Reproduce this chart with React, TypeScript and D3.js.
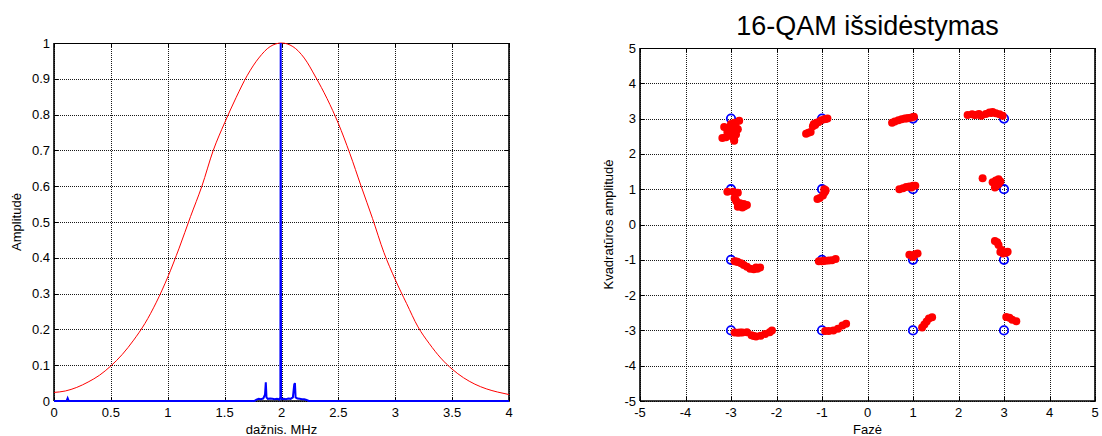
import React from 'react';
import * as d3 from 'd3';

const W = 1102;
const H = 436;
const FONT = '"Liberation Sans", Arial, Helvetica, sans-serif';

// ---------- Left chart: spectrum ----------
const specXTicks = [0, 0.5, 1, 1.5, 2, 2.5, 3, 3.5, 4];
const specXLabels = ['0', '0.5', '1', '1.5', '2', '2.5', '3', '3.5', '4'];
const specYTicks = [0, 0.1, 0.2, 0.3, 0.4, 0.5, 0.6, 0.7, 0.8, 0.9, 1];
const specYLabels = ['0', '0.1', '0.2', '0.3', '0.4', '0.5', '0.6', '0.7', '0.8', '0.9', '1'];

const redFreq = [0, 0.1, 0.2, 0.3, 0.4, 0.5, 0.6, 0.7, 0.8, 0.9, 1.0, 1.1, 1.2, 1.3, 1.4, 1.5, 1.6, 1.7, 1.8, 1.9, 2.0,
  2.1, 2.2, 2.3, 2.4, 2.5, 2.6, 2.7, 2.8, 2.9, 3.0, 3.1, 3.2, 3.3, 3.4, 3.5, 3.6, 3.7, 3.8, 3.9, 4.0];
const redAmp = [0.024, 0.028, 0.038, 0.053, 0.072, 0.098, 0.13, 0.17, 0.217, 0.276, 0.346, 0.427, 0.515, 0.6, 0.7, 0.777, 0.847, 0.91, 0.958, 0.99, 1.0,
  0.99, 0.958, 0.905, 0.845, 0.775, 0.692, 0.6, 0.51, 0.415, 0.339, 0.272, 0.207, 0.16, 0.12, 0.089, 0.065, 0.047, 0.034, 0.025, 0.018];

const blueFreq = [0, 0.11, 0.12, 0.13, 1.76, 1.78, 1.8, 1.82, 1.84, 1.855, 1.862, 1.868, 1.88, 1.9, 1.92, 1.94, 1.96, 1.98,
  1.99, 1.993, 1.996, 2.0, 2.02, 2.04, 2.06, 2.08, 2.1, 2.112, 2.118, 2.124, 2.14, 2.16, 2.18, 2.2, 2.22, 2.24, 4];
const blueAmp = [0, 0, 0.008, 0, 0, 0.004, 0.006, 0.005, 0.007, 0.018, 0.052, 0.01, 0.006, 0.007, 0.006, 0.005, 0.006, 0.004,
  0.01, 1.0, 0.01, 0.005, 0.006, 0.005, 0.007, 0.006, 0.01, 0.046, 0.05, 0.01, 0.007, 0.006, 0.005, 0.005, 0.003, 0, 0];

// ---------- Right chart: 16-QAM constellation ----------
const qamTicks = [-5, -4, -3, -2, -1, 0, 1, 2, 3, 4, 5];
const qamLabels = ['-5', '-4', '-3', '-2', '-1', '0', '1', '2', '3', '4', '5'];

const idealI = [-3, -1, 1, 3, -3, -1, 1, 3, -3, -1, 1, 3, -3, -1, 1, 3];
const idealQ = [3, 3, 3, 3, 1, 1, 1, 1, -1, -1, -1, -1, -3, -3, -3, -3];

const rxI = [
  // (-3,3)
  -2.82, -2.93, -3.15, -2.96, -3.11, -2.93, -2.89, -3.04, -3.19, -2.93, -2.85, -3.0, -3.08, -2.98, -2.9,
  // (-1,3)
  -0.88, -0.95, -1.02, -1.08, -1.15, -1.2, -1.3, -1.35, -1.25, -1.18, -0.92, -1.12,
  // (1,3)
  0.54, 0.6, 0.68, 0.75, 0.82, 0.9, 0.97, 1.02, 0.86,
  // (3,3)
  2.2, 2.3, 2.4, 2.5, 2.6, 2.68, 2.75, 2.82, 2.9, 2.97, 2.45, 2.35, 2.72,
  // (-3,1)
  -3.08, -2.95, -2.85, -2.92, -2.88, -2.8, -2.72, -2.65, -2.75, -2.85, -2.9, -2.7,
  // (-1,1)
  -0.92, -0.95, -0.98, -1.05, -1.1, -0.95, -0.93,
  // (1,1)
  0.7, 0.78, 0.85, 0.92, 1.0, 1.05, 0.97,
  // (3,1)
  2.53, 2.75, 2.82, 2.88, 2.92, 2.85, 2.8, 2.88,
  // (-3,-1)
  -2.92, -2.85, -2.78, -2.72, -2.65, -2.58, -2.5, -2.42, -2.36, -2.45, -2.88,
  // (-1,-1)
  -1.07, -1.0, -0.92, -0.85, -0.78, -0.7, -0.96,
  // (1,-1)
  0.92, 0.98, 1.05, 1.1, 1.0,
  // (3,-1)
  2.8, 2.85, 2.88, 2.92, 2.98, 3.05, 3.08, 2.95,
  // (-3,-3)
  -2.92, -2.85, -2.75, -2.65, -2.55, -2.45, -2.35, -2.25, -2.15, -2.1, -2.8, -2.5,
  // (-1,-3)
  -0.93, -0.85, -0.75, -0.65, -0.55, -0.47,
  // (1,-3)
  1.2, 1.25, 1.3, 1.35, 1.42,
  // (3,-3)
  3.05, 3.12, 3.18, 3.27,
];
const rxQ = [
  2.94, 2.88, 2.76, 2.64, 2.47, 2.4, 2.55, 2.74, 2.45, 2.37, 2.7, 2.85, 2.62, 2.5, 2.8,
  3.0, 2.98, 2.95, 2.9, 2.82, 2.78, 2.6, 2.57, 2.62, 2.85, 2.99, 2.88,
  2.88, 2.92, 2.95, 2.98, 3.0, 3.02, 3.03, 3.05, 3.0,
  3.1, 3.12, 3.11, 3.08, 3.13, 3.17, 3.19, 3.15, 3.12, 3.08, 3.13, 3.1, 3.16,
  0.93, 0.93, 0.9, 0.75, 0.65, 0.6, 0.58, 0.55, 0.48, 0.5, 0.7, 0.52,
  0.97, 0.9, 0.82, 0.75, 0.72, 1.0, 0.94,
  1.0, 1.03, 1.06, 1.08, 1.1, 1.1, 1.05,
  1.31, 1.2, 1.25, 1.28, 1.22, 1.12, 1.05, 1.15,
  -1.04, -1.06, -1.1, -1.15, -1.2, -1.25, -1.27, -1.25, -1.22, -1.22, -1.05,
  -1.04, -1.04, -1.03, -1.02, -1.01, -0.98, -1.03,
  -0.86, -0.88, -0.84, -0.82, -0.92,
  -0.47, -0.5, -0.58, -0.78, -0.82, -0.8, -0.77, -0.72,
  -3.06, -3.07, -3.06, -3.05, -3.14, -3.17, -3.15, -3.1, -3.05, -3.0, -3.06, -3.16,
  -3.02, -3.02, -3.0, -2.95, -2.86, -2.81,
  -2.92, -2.83, -2.75, -2.66, -2.63,
  -2.62, -2.64, -2.7, -2.74,
];

type Scale = d3.ScaleLinear<number, number>;

const snap = (v: number) => Math.round(v) + 0.5;

function GridAndTicks(props: {
  x: Scale; y: Scale; xTicks: number[]; yTicks: number[];
  xLabels: string[]; yLabels: string[];
}) {
  const { x, y, xTicks, yTicks, xLabels, yLabels } = props;
  const [x0, x1] = x.range();
  const [y0, y1] = y.range(); // y0 bottom, y1 top
  const tl = 4;
  return (
    <g>
      {xTicks.map((t, i) => (
        <line key={'gx' + i} x1={snap(x(t))} x2={snap(x(t))} y1={y1} y2={y0}
          stroke="#000" strokeOpacity={0.9} strokeDasharray="1,1" strokeWidth={1} />
      ))}
      {yTicks.map((t, i) => (
        <line key={'gy' + i} x1={x0} x2={x1} y1={snap(y(t))} y2={snap(y(t))}
          stroke="#000" strokeOpacity={0.9} strokeDasharray="1,1" strokeWidth={1} />
      ))}
      {xTicks.map((t, i) => (
        <g key={'tx' + i}>
          <line x1={snap(x(t))} x2={snap(x(t))} y1={y0} y2={y0 - tl} stroke="#000" />
          <line x1={snap(x(t))} x2={snap(x(t))} y1={y1} y2={y1 + tl} stroke="#000" />
          <text x={x(t)} y={y0 + 16} textAnchor="middle" fontSize={13} fontFamily={FONT} fill="#000">{xLabels[i]}</text>
        </g>
      ))}
      {yTicks.map((t, i) => (
        <g key={'ty' + i}>
          <line x1={x0} x2={x0 + tl} y1={snap(y(t))} y2={snap(y(t))} stroke="#000" />
          <line x1={x1} x2={x1 - tl} y1={snap(y(t))} y2={snap(y(t))} stroke="#000" />
          <text x={x0 - 4} y={y(t) + 4.5} textAnchor="end" fontSize={13} fontFamily={FONT} fill="#000">{yLabels[i]}</text>
        </g>
      ))}
    </g>
  );
}

function Box(props: { x: Scale; y: Scale }) {
  const [x0, x1] = props.x.range();
  const [y0, y1] = props.y.range();
  return (
    <g>
      <line x1={x0} x2={x1} y1={y1 + 0.5} y2={y1 + 0.5} stroke="#000" strokeWidth={1} />
      <line x1={x0} x2={x1 + 1} y1={y0} y2={y0} stroke="#000" strokeWidth={1.6} />
      <line x1={x0} x2={x0} y1={y1} y2={y0} stroke="#000" strokeWidth={1.6} />
      <line x1={x1} x2={x1} y1={y1} y2={y0} stroke="#000" strokeWidth={1.6} />
    </g>
  );
}

export default function App() {
  // Left chart scales
  const lx = d3.scaleLinear().domain([0, 4]).range([54, 509]);
  const ly = d3.scaleLinear().domain([0, 1]).range([401, 43]);
  // Right chart scales
  const rx = d3.scaleLinear().domain([-5, 5]).range([640, 1095]);
  const ry = d3.scaleLinear().domain([-5, 5]).range([401, 48]);

  const redLine = d3.line<number>()
    .x((_, i) => lx(redFreq[i]))
    .y((d) => ly(d))
    .curve(d3.curveMonotoneX);
  const blueLine = d3.line<number>()
    .x((_, i) => lx(blueFreq[i]))
    .y((d) => ly(d));

  return (
    <svg width={W} height={H} style={{ position: 'absolute', left: 0, top: 0, background: '#fff' }}>
      <rect x={0} y={0} width={W} height={H} fill="#fff" />
      {/* Left chart */}
      <GridAndTicks x={lx} y={ly} xTicks={specXTicks} yTicks={specYTicks} xLabels={specXLabels} yLabels={specYLabels} />
      <Box x={lx} y={ly} />
      <path d={redLine(redAmp) || ''} fill="none" stroke="#ff0000" strokeWidth={1} />
      <path d={blueLine(blueAmp) || ''} fill="none" stroke="#0000ff" strokeWidth={2} />
      <text x={(54 + 509) / 2} y={434} textAnchor="middle" fontSize={13} fontFamily={FONT}>dažnis. MHz</text>
      <text transform={`translate(21,${(43 + 401) / 2}) rotate(-90)`} textAnchor="middle" fontSize={13} fontFamily={FONT}>Amplitudė</text>

      {/* Right chart */}
      <GridAndTicks x={rx} y={ry} xTicks={qamTicks} yTicks={qamTicks} xLabels={qamLabels} yLabels={qamLabels} />
      {idealI.map((v, i) => (
        <circle key={'id' + i} cx={rx(v)} cy={ry(idealQ[i])} r={4.2} fill="none" stroke="#0000ff" strokeWidth={1.8} />
      ))}
      {rxI.map((v, i) => (
        <circle key={'rx' + i} cx={rx(v)} cy={ry(rxQ[i])} r={4} fill="#ff0000" />
      ))}
      <Box x={rx} y={ry} />
      <text x={(640 + 1095) / 2} y={434} textAnchor="middle" fontSize={13} fontFamily={FONT}>Fazė</text>
      <text transform={`translate(613,${(48 + 401) / 2}) rotate(-90)`} textAnchor="middle" fontSize={13} fontFamily={FONT}>Kvadratūros amplitudė</text>
      <text x={(640 + 1095) / 2} y={35} textAnchor="middle" fontSize={27} fontFamily={FONT}>16-QAM išsidėstymas</text>
    </svg>
  );
}
